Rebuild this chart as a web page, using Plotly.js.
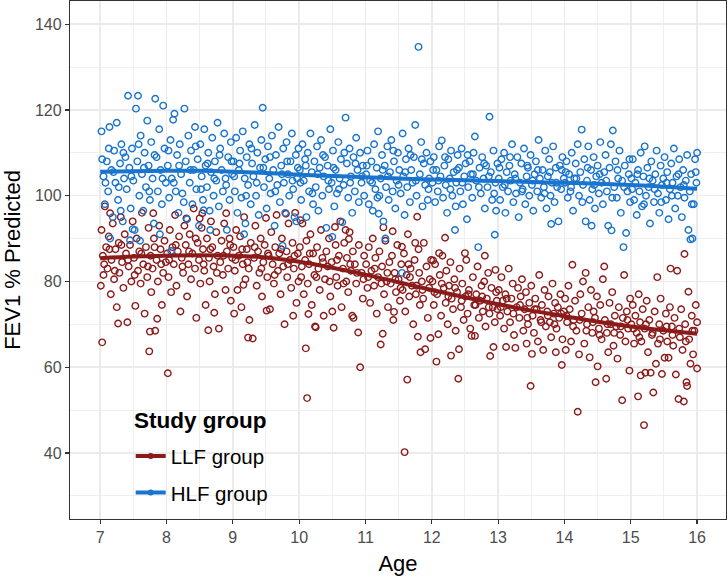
<!DOCTYPE html>
<html>
<head>
<meta charset="utf-8">
<script src="https://cdn.plot.ly/plotly-3.0.1.min.js"></script>
<style>html,body{margin:0;padding:0;background:#fff;}#chart{width:728px;height:578px;}</style>
</head>
<body>
<div id="chart"></div>
<script>
// ---- Data (age, FEV1 % predicted) ----
const groupNames = ["LLF group", "HLF group"];
const legendTitle = "Study group";

// HLF group points, split by year of age
const hlf7 = [[7.02,115],[7.03,108.5],[7.05,104.5],[7.07,98],[7.08,103],[7.1,108],[7.12,101],[7.13,111],[7.14,116],[7.15,90],[7.17,106],[7.19,95],[7.2,105.5],[7.21,110.5],[7.23,103],[7.25,117],[7.27,99],[7.28,102],[7.3,107.5],[7.31,96.5],[7.32,112],[7.34,94],[7.35,110],[7.36,104],[7.38,109],[7.4,101.5],[7.42,123.3],[7.44,106.5],[7.45,89.6],[7.46,97],[7.47,104.5],[7.48,111],[7.49,92.2],[7.5,103.5],[7.52,92],[7.54,120.3],[7.56,108],[7.57,123.3],[7.58,112],[7.59,100],[7.6,89.5],[7.61,114],[7.63,105],[7.65,96.5],[7.66,106.5],[7.67,110],[7.69,102],[7.71,117.5],[7.73,107],[7.74,101],[7.75,99],[7.77,112.5],[7.79,104],[7.81,93.5],[7.82,109.5],[7.83,122.6],[7.85,109],[7.87,101],[7.89,115.5],[7.9,91],[7.91,106],[7.93,98],[7.94,104],[7.95,121],[7.97,111],[7.99,103]];
const hlf8 = [[8.02,107],[8.03,110.5],[8.04,99.5],[8.06,113],[8.07,87.1],[8.08,104],[8.1,117.7],[8.11,103],[8.12,119.1],[8.14,101],[8.16,109.5],[8.18,96],[8.19,107],[8.2,112],[8.22,105],[8.24,100.5],[8.26,98.5],[8.27,120.3],[8.29,108],[8.31,94.5],[8.33,114],[8.35,103],[8.36,106],[8.37,110.5],[8.39,98],[8.41,106],[8.43,116],[8.44,111.5],[8.45,101.5],[8.47,108.5],[8.49,93],[8.51,112],[8.52,101.5],[8.53,104.5],[8.55,99],[8.56,96.6],[8.57,115.5],[8.59,107],[8.61,102],[8.62,107.5],[8.63,110],[8.65,96.5],[8.66,92],[8.67,105.5],[8.69,113.5],[8.71,100],[8.72,104],[8.73,108],[8.75,103.5],[8.77,117],[8.79,97.5],[8.8,109.5],[8.81,111],[8.83,106],[8.85,101],[8.87,114.5],[8.89,104],[8.9,102.5],[8.91,92],[8.93,109],[8.95,99],[8.97,112.5],[8.98,108],[8.99,105]];
const hlf9 = [[9.01,108],[9.02,104.5],[9.03,101],[9.05,113.5],[9.07,96],[9.09,106],[9.1,107.5],[9.11,110.5],[9.13,99.5],[9.15,115],[9.17,91],[9.18,104],[9.19,93.5],[9.2,100],[9.21,109],[9.23,102.5],[9.25,112],[9.27,98],[9.28,111],[9.29,107.5],[9.31,104.5],[9.33,116.5],[9.35,100],[9.36,103],[9.37,110],[9.39,95.5],[9.41,106.5],[9.43,113],[9.45,120.5],[9.46,106.5],[9.47,102],[9.49,108.5],[9.51,97],[9.53,111.5],[9.55,104],[9.56,109],[9.57,100.5],[9.59,114],[9.61,106],[9.63,93],[9.64,101],[9.65,109.5],[9.67,102.5],[9.69,116],[9.71,98.5],[9.73,107],[9.74,105],[9.75,88.3],[9.76,111],[9.77,103],[9.79,96],[9.81,112.5],[9.82,108],[9.83,105],[9.85,100],[9.87,108],[9.89,114.5],[9.9,103.5],[9.91,101.5],[9.93,95],[9.95,109.5],[9.96,94],[9.97,104],[9.98,106.5],[9.99,111]];
const hlf10 = [[10.01,106],[10.02,103],[10.03,99],[10.05,112],[10.07,103.5],[10.09,108.5],[10.1,107],[10.11,95],[10.13,110],[10.15,101],[10.17,114.5],[10.19,105.5],[10.2,100.5],[10.21,98],[10.23,108],[10.25,102],[10.27,111.5],[10.28,105],[10.29,96.5],[10.31,106.5],[10.33,113],[10.35,100],[10.36,109.5],[10.37,104.5],[10.39,109],[10.41,92.5],[10.43,107],[10.44,103.5],[10.45,101.5],[10.47,115.5],[10.49,103],[10.5,90.4],[10.51,110.5],[10.52,106.5],[10.53,97.5],[10.55,106],[10.57,100.5],[10.59,112.5],[10.6,101.5],[10.61,104],[10.63,108.5],[10.65,93.8],[10.67,102.5],[10.68,110],[10.7,118.2],[10.72,107.5],[10.74,99.5],[10.76,111],[10.77,103],[10.78,104.5],[10.8,96],[10.82,109],[10.84,101],[10.85,107.5],[10.86,113.5],[10.88,106],[10.9,98.5],[10.92,110],[10.94,103],[10.95,104.5],[10.96,107],[10.98,100]];
const hlf11 = [[11.01,105],[11.02,107],[11.03,110.5],[11.05,98],[11.07,103.5],[11.09,108],[11.1,103],[11.11,96.5],[11.13,112],[11.15,101.5],[11.17,106.5],[11.18,99.5],[11.19,115],[11.2,95.8],[11.21,100],[11.23,104],[11.25,109.5],[11.26,106],[11.27,94],[11.29,107],[11.3,90],[11.31,102],[11.33,111.5],[11.34,104.5],[11.35,99],[11.37,105.5],[11.39,113],[11.41,101],[11.42,110.5],[11.43,108],[11.45,97],[11.47,103.5],[11.49,110],[11.5,102.5],[11.51,106],[11.53,100.5],[11.55,82],[11.56,114.5],[11.57,104.5],[11.59,95.5],[11.6,105.5],[11.61,108.5],[11.63,102],[11.65,111],[11.67,98.5],[11.68,109.5],[11.69,106],[11.71,103],[11.73,109],[11.75,116.5],[11.76,103.5],[11.77,100],[11.8,134.7],[11.82,105],[11.84,112.5],[11.85,108.5],[11.86,97.5],[11.88,107.5],[11.9,102.5],[11.92,110],[11.94,99],[11.95,101.5],[11.96,104],[11.98,108]];
const hlf12 = [[12.01,103],[12.02,106],[12.03,109],[12.05,98.5],[12.07,106],[12.09,101],[12.1,103.5],[12.11,111.5],[12.13,104.5],[12.15,112.9],[12.17,99.5],[12.19,107],[12.2,109],[12.21,102.5],[12.23,96],[12.25,108.5],[12.27,104],[12.28,101.5],[12.29,110.5],[12.31,100],[12.33,105.5],[12.35,92],[12.36,97.5],[12.37,103],[12.38,106],[12.39,109.5],[12.41,106.5],[12.43,101],[12.45,111],[12.46,103],[12.47,98],[12.49,104.5],[12.51,107.5],[12.53,94.5],[12.54,109.5],[12.55,102],[12.57,108],[12.59,105],[12.61,99.5],[12.62,105],[12.63,110],[12.65,113.8],[12.67,103.5],[12.7,88],[12.71,102],[12.72,106.5],[12.74,100.5],[12.76,109],[12.78,104],[12.79,107.5],[12.8,97],[12.82,107],[12.84,102],[12.86,104.5],[12.87,118.4],[12.89,105.5],[12.91,99],[12.93,110.5],[12.94,100.5],[12.95,90.9],[12.96,103],[12.97,96.5],[12.99,107.5]];
const hlf13 = [[13.01,104],[13.02,106.5],[13.03,99],[13.05,108.5],[13.07,102],[13.09,110],[13.1,102.5],[13.11,96],[13.13,105.5],[13.15,101],[13.17,107],[13.18,109],[13.19,103.5],[13.21,112],[13.23,98.5],[13.25,105],[13.26,104],[13.27,100.5],[13.29,109],[13.31,95],[13.33,103],[13.35,107.5],[13.36,101],[13.37,101.5],[13.39,111],[13.41,98],[13.43,104.5],[13.44,107],[13.45,106.5],[13.47,100],[13.49,109.5],[13.51,102.5],[13.52,103.5],[13.53,96.5],[13.55,105],[13.57,108],[13.59,101],[13.6,106],[13.61,113],[13.63,104],[13.65,99.5],[13.67,106],[13.69,102],[13.7,100.5],[13.71,110.5],[13.73,97],[13.75,104.5],[13.77,108.5],[13.78,105.5],[13.79,100],[13.8,93.4],[13.81,103],[13.83,111.5],[13.85,98.5],[13.87,106.5],[13.88,103],[13.89,102],[13.91,94],[13.93,107],[13.95,101.5],[13.96,106],[13.97,109],[13.99,104]];
const hlf14 = [[14.01,103],[14.02,105.5],[14.03,108],[14.05,99.5],[14.07,105],[14.09,101],[14.1,102],[14.11,110],[14.13,96.5],[14.15,104],[14.17,107.5],[14.18,104],[14.2,112],[14.22,100],[14.24,105.5],[14.26,115.4],[14.27,98.5],[14.28,102.5],[14.3,108.5],[14.32,94],[14.34,103.5],[14.35,106.5],[14.36,111.5],[14.38,99],[14.4,106],[14.41,93],[14.42,101.5],[14.44,109],[14.45,102.5],[14.46,97],[14.48,104.5],[14.5,107],[14.52,100.5],[14.53,105],[14.54,112.5],[14.56,103],[14.58,98],[14.6,105.5],[14.62,109.5],[14.63,103.5],[14.64,101],[14.66,93],[14.68,106.5],[14.7,112],[14.71,91.9],[14.72,99.5],[14.73,115.2],[14.75,102],[14.77,108],[14.79,99.5],[14.8,106],[14.81,104],[14.83,110.5],[14.85,96],[14.87,103.5],[14.89,88],[14.9,102],[14.91,107],[14.93,91.3],[14.95,101],[14.97,105],[14.98,108.5],[14.99,98.5]];
const hlf15 = [[15.01,104],[15.02,101.5],[15.03,108.5],[15.05,99],[15.07,103],[15.09,95.5],[15.1,105],[15.11,106],[15.13,101],[15.15,110],[15.17,97.5],[15.19,104.5],[15.2,98],[15.21,111.5],[15.23,100],[15.25,106.5],[15.27,102],[15.28,104],[15.29,93.5],[15.31,108],[15.33,103.5],[15.35,98.5],[15.36,101.5],[15.37,105],[15.39,110.5],[15.41,100.5],[15.43,96],[15.45,107],[15.46,98.5],[15.47,102.5],[15.49,104],[15.51,109],[15.53,99],[15.54,103],[15.55,105.5],[15.57,94.5],[15.59,101.5],[15.61,107.5],[15.62,100],[15.63,103],[15.65,111],[15.67,97],[15.69,104.5],[15.71,100],[15.72,105],[15.73,108.5],[15.75,102],[15.77,95],[15.79,106],[15.8,102.5],[15.81,99.5],[15.83,103.5],[15.85,109.5],[15.87,92],[15.89,101],[15.9,89.8],[15.91,105],[15.92,98],[15.93,90],[15.95,98],[15.97,108.5],[15.98,105.5],[15.99,103],[16.0,110]];

// LLF group points, split by year of age
const llf7 = [[7.01,79],[7.02,92],[7.03,65.8],[7.04,86],[7.05,81.5],[7.06,84],[7.07,97.5],[7.09,88],[7.11,83],[7.13,90.5],[7.14,87.5],[7.15,95.9],[7.16,77],[7.17,85],[7.19,93.5],[7.21,80.5],[7.22,82.5],[7.23,87.5],[7.25,74],[7.27,70.2],[7.28,89],[7.29,82],[7.31,95],[7.32,88.5],[7.33,84.5],[7.35,78.5],[7.37,91],[7.39,86.5],[7.41,70.5],[7.42,85],[7.43,83.5],[7.45,88.5],[7.47,80],[7.49,94],[7.51,85.5],[7.52,81.5],[7.53,74.3],[7.55,90],[7.57,82.5],[7.59,87],[7.61,79.5],[7.62,86.5],[7.63,96],[7.65,84],[7.67,72.5],[7.69,88],[7.71,81],[7.72,83.5],[7.73,92.5],[7.74,63.7],[7.75,68.3],[7.76,86],[7.77,77.5],[7.79,83],[7.8,95.9],[7.81,90],[7.82,88],[7.83,68.5],[7.85,85],[7.86,71.3],[7.87,80],[7.89,93],[7.91,87.5],[7.92,84],[7.93,74.5],[7.95,82],[7.97,89.5],[7.99,84.5]];
const llf8 = [[8.01,86.5],[8.02,58.6],[8.03,81],[8.04,85],[8.05,92],[8.07,77.5],[8.09,88],[8.11,84],[8.13,95.5],[8.14,88.5],[8.15,79],[8.17,87],[8.19,90.5],[8.21,73],[8.23,85.5],[8.24,83.5],[8.25,82],[8.27,93],[8.29,88.5],[8.3,94.7],[8.31,76.5],[8.33,84],[8.34,87],[8.35,91],[8.37,80.5],[8.39,86.5],[8.41,97],[8.43,83],[8.44,90],[8.45,71.5],[8.47,89],[8.49,85],[8.5,94.7],[8.51,79.5],[8.53,92.5],[8.54,95.9],[8.55,87.5],[8.56,84],[8.57,82.5],[8.59,74.5],[8.61,90],[8.63,68.6],[8.64,85.5],[8.65,80],[8.66,87.5],[8.67,94],[8.69,88],[8.71,83.5],[8.72,72.7],[8.73,77],[8.75,91.5],[8.76,82],[8.77,86],[8.79,69],[8.81,84.5],[8.83,89.5],[8.85,81.5],[8.86,86],[8.87,93.5],[8.89,78],[8.9,95.9],[8.91,87],[8.93,83],[8.95,90],[8.96,88.5],[8.97,75.5],[8.99,85.5]];
const llf9 = [[9.01,88],[9.02,72.5],[9.03,82.5],[9.04,85],[9.05,92],[9.07,78],[9.09,86],[9.11,90.5],[9.13,74],[9.14,87.5],[9.15,84],[9.16,79.2],[9.17,95],[9.19,80.5],[9.21,87.5],[9.22,84.5],[9.23,66.9],[9.24,83],[9.25,71],[9.27,89],[9.3,66.7],[9.32,85.5],[9.33,88],[9.34,93],[9.36,79],[9.38,87],[9.4,82],[9.42,90],[9.43,83],[9.44,76.5],[9.46,84.5],[9.48,88.5],[9.5,94.8],[9.51,73.2],[9.52,81],[9.53,86.5],[9.54,86],[9.56,73.5],[9.58,91.5],[9.6,84],[9.62,79.5],[9.63,81.5],[9.64,88],[9.66,95.5],[9.68,82.5],[9.7,86.5],[9.72,77],[9.73,87.5],[9.74,90],[9.76,83.5],[9.78,70],[9.8,95.8],[9.81,87],[9.82,81],[9.83,84],[9.84,93.5],[9.86,85],[9.88,78.5],[9.9,89],[9.91,72],[9.92,83],[9.93,86],[9.94,96],[9.96,75],[9.98,86.5],[9.99,80]];
const llf10 = [[10.01,88],[10.02,94.3],[10.03,81],[10.04,83.5],[10.05,93.5],[10.07,77],[10.09,85],[10.1,64.4],[10.11,89.5],[10.12,52.8],[10.13,79.5],[10.14,72.4],[10.15,84],[10.16,86.5],[10.17,91],[10.19,74.5],[10.21,86.5],[10.23,81.5],[10.24,69.5],[10.25,69.3],[10.26,81],[10.27,88],[10.29,83],[10.31,78],[10.33,92],[10.35,85.5],[10.36,84.5],[10.37,72],[10.39,80.5],[10.41,87],[10.43,83.5],[10.45,90],[10.46,80],[10.47,76.5],[10.49,84.5],[10.5,73],[10.52,69.2],[10.54,92.7],[10.55,88.5],[10.56,81],[10.57,85],[10.58,79],[10.6,86],[10.62,94],[10.64,74],[10.66,83],[10.67,79.5],[10.68,89],[10.7,92],[10.71,80],[10.72,85.5],[10.74,77.5],[10.75,89.9],[10.76,91.5],[10.77,84],[10.78,82.5],[10.8,72],[10.81,87],[10.82,71.5],[10.84,84],[10.86,79.5],[10.87,82],[10.89,68.1],[10.9,88.5],[10.92,60],[10.94,82],[10.96,76],[10.97,80.5],[10.98,86]];
const llf11 = [[11.01,84],[11.03,78.5],[11.04,81],[11.05,88],[11.07,75],[11.09,82.5],[11.11,90],[11.13,79],[11.14,83],[11.15,85.5],[11.17,72.5],[11.19,81],[11.21,87],[11.23,65.3],[11.24,79.5],[11.25,83.5],[11.26,67.8],[11.27,92.6],[11.28,77],[11.3,89.5],[11.32,80],[11.33,82],[11.34,74],[11.36,84.5],[11.38,79.5],[11.4,86],[11.41,91.7],[11.42,71],[11.43,72.9],[11.44,82],[11.45,80.5],[11.46,77.5],[11.48,88.5],[11.5,80.5],[11.52,75.5],[11.53,78.5],[11.54,84],[11.55,88.1],[11.56,78],[11.58,86.5],[11.59,40.2],[11.6,73],[11.62,81.5],[11.63,57.1],[11.64,91],[11.65,84],[11.66,76.5],[11.67,81],[11.68,83],[11.7,79],[11.72,70],[11.74,85],[11.75,89],[11.76,77],[11.77,79],[11.78,95.1],[11.79,67.1],[11.8,87.5],[11.81,82],[11.82,74.5],[11.83,63.5],[11.85,80],[11.86,78],[11.87,76],[11.88,89],[11.9,64.2],[11.92,83.5],[11.94,71.5],[11.96,78.5],[11.97,80.5],[11.98,66.8],[11.99,85]];
const llf12 = [[12.01,80],[12.02,84.9],[12.03,74.5],[12.04,77.5],[12.05,84],[12.07,61.3],[12.08,77],[12.1,67.7],[12.11,86.6],[12.12,81.5],[12.14,72],[12.15,79.5],[12.16,86],[12.18,78.5],[12.2,90.2],[12.21,75],[12.22,82.5],[12.24,70],[12.25,76.5],[12.26,79],[12.28,84.5],[12.29,62.7],[12.3,76],[12.32,73.5],[12.34,80.5],[12.35,78.5],[12.36,68.5],[12.38,77.5],[12.4,57.3],[12.41,64.2],[12.42,83],[12.44,74],[12.45,75.5],[12.46,79.5],[12.48,71],[12.5,86.6],[12.51,76.5],[12.52,85],[12.54,72.5],[12.55,77],[12.56,78],[12.58,69],[12.6,67.3],[12.62,81],[12.64,74.5],[12.65,67.3],[12.66,74.5],[12.67,77],[12.69,83.5],[12.71,71.5],[12.73,75.5],[12.75,79],[12.76,76.5],[12.77,73],[12.79,80],[12.8,86],[12.81,69.5],[12.83,76],[12.85,82],[12.86,74],[12.87,72.5],[12.88,62.6],[12.9,78.5],[12.92,74],[12.93,64.7],[12.95,70.5],[12.96,82.7],[12.97,77.5],[12.98,75.5],[12.99,73.5]];
const llf13 = [[13.01,78],[13.03,72],[13.04,74],[13.05,81],[13.07,75.5],[13.09,69],[13.11,77],[13.12,64.7],[13.13,76],[13.14,73],[13.16,83],[13.18,70.5],[13.2,76],[13.22,79.5],[13.23,72.5],[13.24,67.5],[13.26,64.5],[13.28,74],[13.3,78.5],[13.32,71.5],[13.33,74.5],[13.34,76.5],[13.36,80.5],[13.38,68.5],[13.4,73.5],[13.42,77.5],[13.43,65.5],[13.44,71.5],[13.45,70],[13.47,75],[13.49,55.6],[13.5,79],[13.51,63.1],[13.52,72],[13.54,68],[13.55,73.5],[13.56,76],[13.58,73.5],[13.6,66],[13.62,81.5],[13.64,71],[13.65,70.5],[13.66,74.5],[13.68,64],[13.7,78],[13.72,69.5],[13.74,73],[13.75,72],[13.76,76.5],[13.78,70.5],[13.8,67],[13.82,79.5],[13.84,72.5],[13.85,70],[13.86,75],[13.87,63.5],[13.88,69],[13.9,74],[13.92,71.5],[13.94,77],[13.95,72.5],[13.96,60.5],[13.97,66.5],[13.99,73]];
const llf14 = [[14.01,76],[14.02,64],[14.03,72],[14.04,70.5],[14.06,79],[14.08,73.5],[14.1,66],[14.12,83.9],[14.13,69.5],[14.14,71],[14.16,75.5],[14.18,68.5],[14.2,49.6],[14.22,63],[14.23,71],[14.24,77],[14.26,72.5],[14.28,80],[14.3,65.5],[14.32,82],[14.33,68.5],[14.34,70],[14.36,74],[14.38,62.3],[14.4,78],[14.42,68],[14.43,70.5],[14.44,73],[14.46,71.5],[14.47,56.5],[14.49,76.5],[14.5,60.2],[14.52,69],[14.53,67.5],[14.54,74.5],[14.56,66.5],[14.58,80.5],[14.6,83.5],[14.61,71],[14.63,57.3],[14.64,68],[14.65,70],[14.66,63.5],[14.68,75],[14.7,70],[14.72,77.5],[14.74,65],[14.75,68],[14.76,72],[14.78,69.5],[14.8,62],[14.82,74],[14.84,67.5],[14.85,69.5],[14.87,52.3],[14.88,71.5],[14.9,81.5],[14.92,66],[14.94,73],[14.95,71],[14.96,69],[14.98,59.2],[14.99,76]];
const llf15 = [[15.01,70],[15.03,74.5],[15.04,69],[15.05,65.5],[15.07,72],[15.09,68],[15.11,53.2],[15.12,77],[15.13,67],[15.14,70.5],[15.15,58.1],[15.16,66],[15.18,73.5],[15.2,46.5],[15.21,69],[15.22,58.7],[15.23,70],[15.24,75.5],[15.26,63.5],[15.28,71],[15.3,58.7],[15.32,67.5],[15.33,68],[15.34,54.1],[15.36,73],[15.38,60.8],[15.4,81],[15.41,65.5],[15.43,70],[15.44,66.5],[15.45,76],[15.47,58.4],[15.49,68.5],[15.51,62.2],[15.53,72.5],[15.54,69.5],[15.55,66],[15.57,62.2],[15.59,74],[15.6,83],[15.62,69.5],[15.63,67.5],[15.64,65],[15.66,71.5],[15.68,58.3],[15.7,82.5],[15.72,52.6],[15.73,69],[15.74,67],[15.76,73.5],[15.78,64],[15.8,52],[15.81,86.4],[15.82,70],[15.83,66],[15.84,56.5],[15.85,55.6],[15.87,77.6],[15.88,66.5],[15.9,60.8],[15.92,72],[15.93,68.5],[15.94,63],[15.96,68.5],[15.98,74.5],[16.0,59.7],[16.0,70.5]];

// Smoothed trend lines
const smoothAge = [7,7.5,8,8.5,9,9.5,10,10.5,11,11.5,12,12.5,13,13.5,14,14.5,15,15.5,16];
const llfSmooth = [85.4,85.8,86.0,86.1,86.0,85.6,84.6,83.2,81.6,79.8,78.0,76.3,74.7,73.2,71.9,70.6,69.5,68.6,67.8];
const hlfSmooth = [105.6,105.7,105.8,105.8,105.6,105.3,104.9,104.6,104.3,104.0,103.8,103.6,103.4,103.2,103.0,102.8,102.5,102.1,101.6];

const xTicks = [7,8,9,10,11,12,13,14,15,16];
const yTicks = [40,60,80,100,120,140];

// ---- Build traces ----
const RED = "#8B1A1A", BLUE = "#1874CD";
const llfPts = [].concat(llf7, llf8, llf9, llf10, llf11, llf12, llf13, llf14, llf15);
const hlfPts = [].concat(hlf7, hlf8, hlf9, hlf10, hlf11, hlf12, hlf13, hlf14, hlf15);

function pts(p, color) {
  return {type: "scatter", mode: "markers", x: p.map(d => d[0]), y: p.map(d => d[1]),
    marker: {symbol: "circle-open", size: 6.5, color: color, line: {width: 1.4, color: color}},
    showlegend: false, hoverinfo: "skip"};
}
function smooth(y, color) {
  return {type: "scatter", mode: "lines", x: smoothAge, y: y,
    line: {color: color, width: 4, shape: "spline"}, showlegend: false, hoverinfo: "skip"};
}
function legendEntry(name, color, grp) {
  return {type: "scatter", mode: "lines+markers", x: [null], y: [null], name: name,
    legendgroup: grp, line: {color: color, width: 4}, marker: {color: color, size: 6, symbol: "circle"}};
}

const traces = [
  pts(llfPts, RED),
  pts(hlfPts, BLUE),
  smooth(llfSmooth, RED),
  smooth(hlfSmooth, BLUE),
  legendEntry(groupNames[0], RED, "a"),
  legendEntry(groupNames[1], BLUE, "b")
];

const FONT = "Liberation Sans, Arial, sans-serif";
const axisCommon = {
  showline: true, mirror: true, linecolor: "#333333", linewidth: 1.2,
  ticks: "outside", ticklen: 4, tickwidth: 1.2, tickcolor: "#333333",
  tickfont: {family: FONT, size: 16, color: "#4D4D4D"},
  showgrid: true, gridcolor: "#EBEBEB", gridwidth: 1.6, zeroline: false
};

const layout = {
  width: 728, height: 578,
  margin: {l: 70, r: 2, t: 1, b: 59},
  paper_bgcolor: "#ffffff", plot_bgcolor: "#ffffff",
  font: {family: FONT},
  xaxis: Object.assign({}, axisCommon, {
    range: [6.545, 16.436], tickvals: xTicks, ticktext: xTicks.map(String),
    minor: {dtick: 0.5, tick0: 6.5, showgrid: true, gridcolor: "#EBEBEB", gridwidth: 0.8, ticklen: 0},
    title: {text: "Age", font: {family: FONT, size: 22, color: "#000"}, standoff: 10}
  }),
  yaxis: Object.assign({}, axisCommon, {
    range: [24.6, 145.4], tickvals: yTicks, ticktext: yTicks.map(String),
    minor: {dtick: 10, tick0: 30, showgrid: true, gridcolor: "#EBEBEB", gridwidth: 0.8, ticklen: 0},
    title: {text: "FEV1 % Predicted", font: {family: FONT, size: 22, color: "#000"}, standoff: 8}
  }),
  annotations: [{
    text: "<b>" + legendTitle + "</b>", xref: "paper", yref: "paper",
    x: 0.095, y: 0.191, xanchor: "left", yanchor: "middle", showarrow: false,
    font: {family: FONT, size: 22.5, color: "#000"}
  }],
  legend: {
    x: 0.0925, y: 0.160, xanchor: "left", yanchor: "top",
    bgcolor: "rgba(255,255,255,0)", borderwidth: 0,
    font: {family: FONT, size: 20.5, color: "#000"},
    traceorder: "grouped", tracegroupgap: 7, itemwidth: 30
  }
};

Plotly.newPlot("chart", traces, layout, {displayModeBar: false, staticPlot: true});
</script>
</body>
</html>
